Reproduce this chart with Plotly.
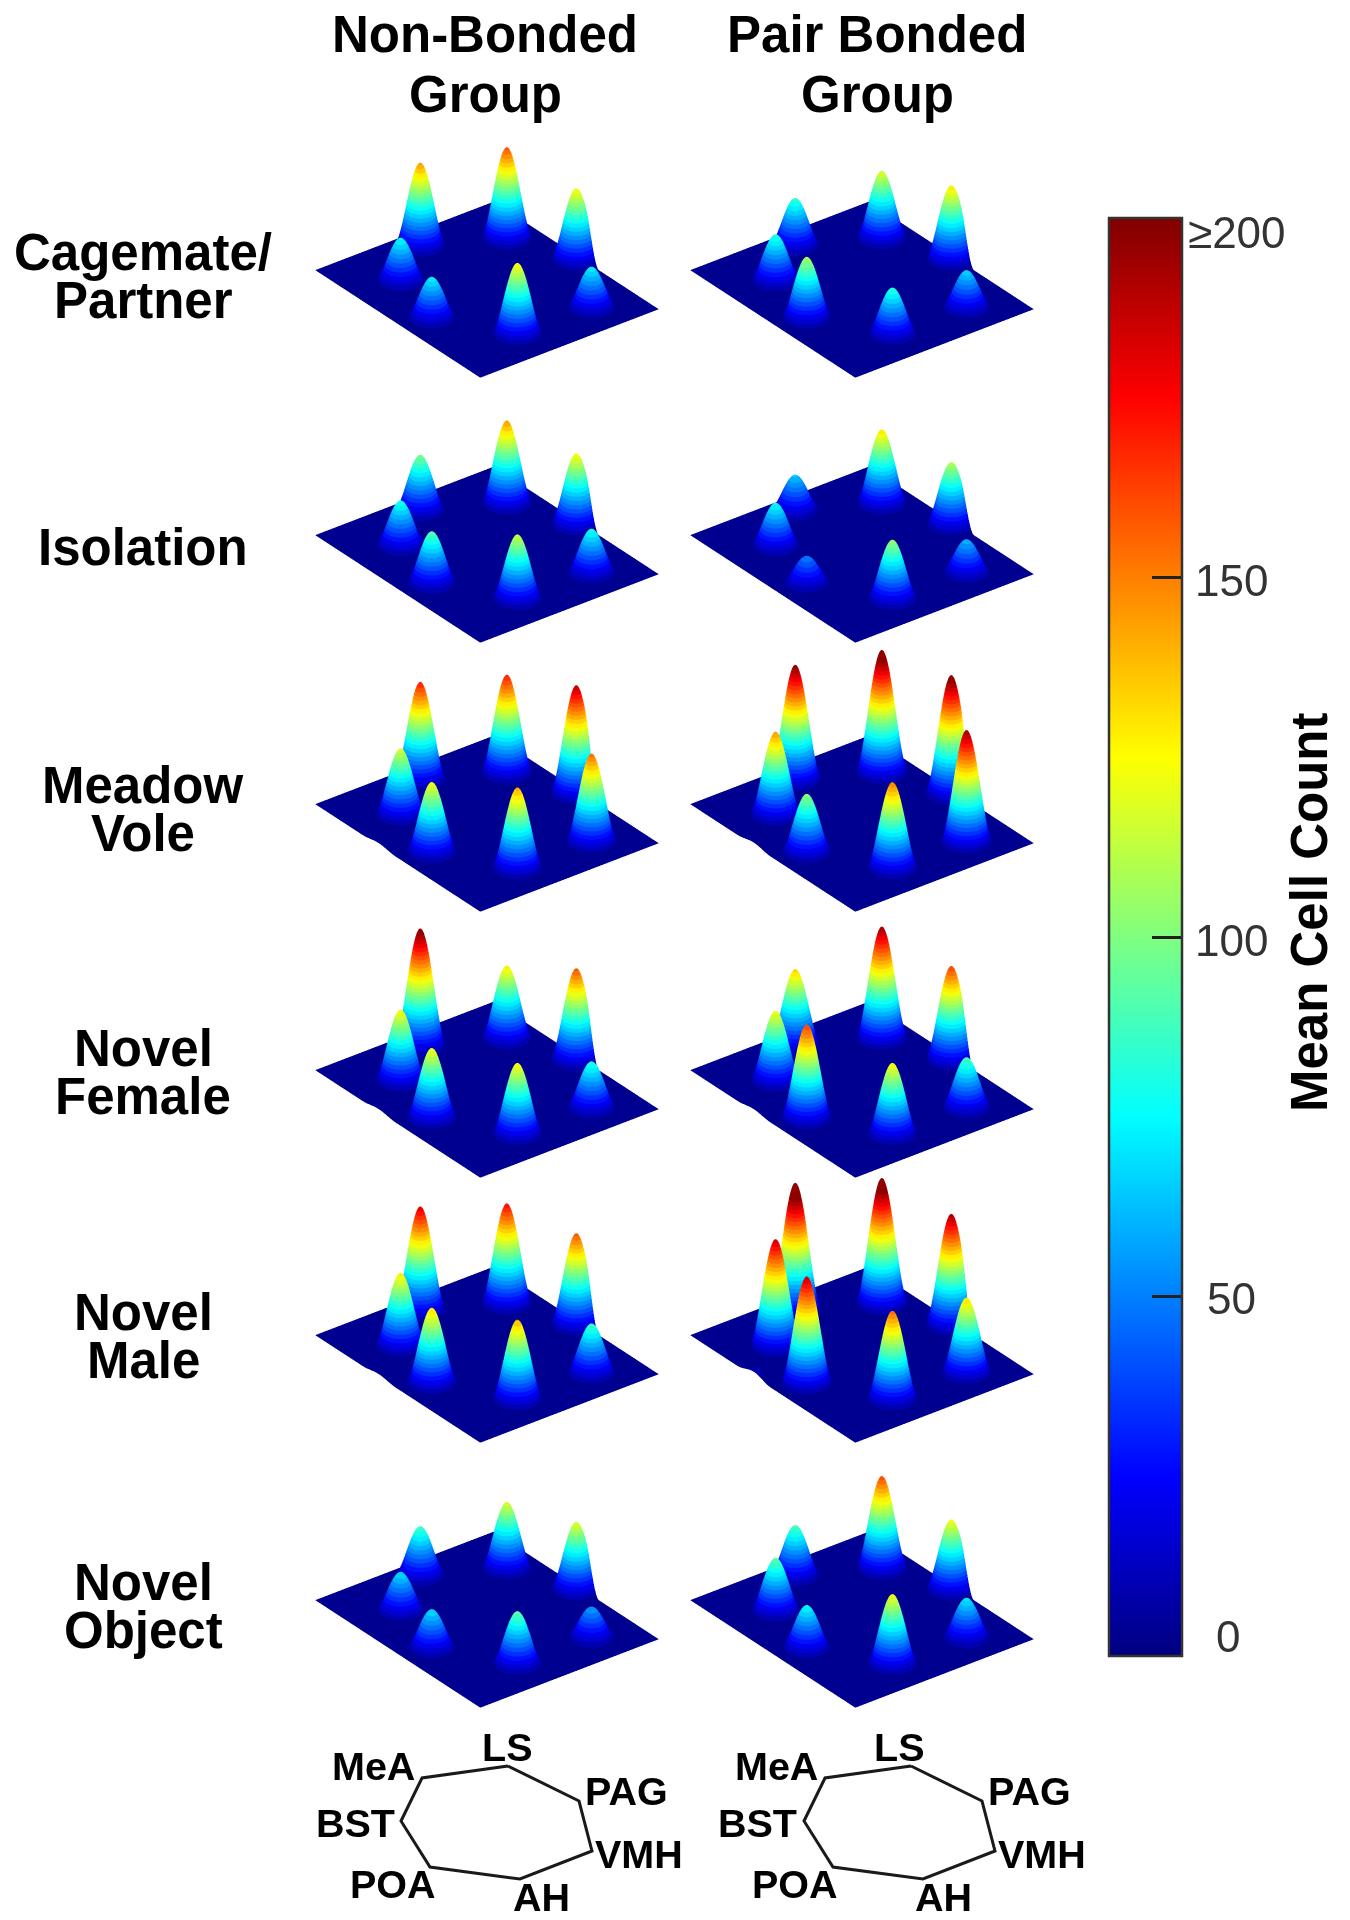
"""
plot.py

Mean cell count per brain region, drawn as one 3D surface for each group and stimulus,
with a shared jet colour bar and a key of the region layout underneath.
"""

import numpy as np
import plotly.graph_objects as go

regions = ['MeA', 'LS', 'PAG', 'BST', 'POA', 'AH', 'VMH']
groups = ['Non-Bonded', 'Pair Bonded']
stimuli = ['Cagemate/Partner', 'Isolation', 'Meadow Vole', 'Novel Female', 'Novel Male', 'Novel Object']

# Peak heights, same order as regions
non_bonded = [
    [144, 158, 124, 76, 73, 124, 73],
    [98, 144, 124, 80, 91, 113, 78],
    [169, 169, 187, 116, 122, 140, 153],
    [202, 127, 158, 124, 122, 124, 82],
    [180, 173, 158, 127, 131, 138, 87],
    [87, 116, 118, 69, 69, 93, 56],
]
pair_bonded = [
    [84, 118, 129, 82, 107, 82, 67],
    [64, 129, 109, 76, 49, 104, 60],
    [198, 211, 204, 144, 102, 149, 193],
    [133, 193, 162, 122, 162, 124, 89],
    [220, 216, 191, 184, 184, 153, 131],
    [89, 160, 122, 93, 76, 122, 71],
]
# Small blip on the front left edge of some panels
non_bonded_blip = [0, 0, 4, 4, 4, 0]
pair_bonded_blip = [0, 0, 5, 4, 8, 0]

# Where each region sits on the floor of a panel (0-1 on both floor axes)
region_x = [0.107, 0.259, 0.538, 0.268, 0.556, 0.842, 0.855]
region_y = [0.490, 0.834, 0.965, 0.231, 0.139, 0.354, 0.757]
blip_x = 0.386
blip_y = 0.0

colorbar_ticks = [0, 50, 100, 150, 200]
colorbar_labels = ['0', '50', '100', '150', '≥200']

# MATLAB jet
jet = [
    [0.0, 'rgb(0,0,128)'],
    [0.125, 'rgb(0,0,255)'],
    [0.375, 'rgb(0,255,255)'],
    [0.625, 'rgb(255,255,0)'],
    [0.875, 'rgb(255,0,0)'],
    [1.0, 'rgb(128,0,0)'],
]

# Key outline, closed, in page pixels
key_x = [508, 579, 592, 520, 430, 401, 422, 508]
key_y = [1766, 1801, 1851, 1879, 1867, 1821, 1778, 1766]
key_labels = ['LS', 'MeA', 'PAG', 'BST', 'VMH', 'POA', 'AH']
key_label_x = [507, 373, 626, 355, 639, 393, 541]
key_label_y = [1747, 1766, 1791, 1823, 1854, 1884, 1897]
key_col_shift = [392, 403, 403, 402, 403, 402, 402]

W, H = 1350, 1920
PAGE_MARGIN = 8  # the page body pushes the figure in by this much
panel_left = [316, 691]
panel_floor_left = [269.5, 535.4, 803.7, 1069.5, 1335.4, 1600]

FLOOR_X_PX = 270
FLOOR_Y_PX = 224
Z_PX_PER_COUNT = 0.68
Z_MIN, Z_MAX = -89, 240
BUMP_RADIUS_PX = 28
ZOOM = 2.01  # orthographic scale, found by comparing with the reference
N_BANDS = 32  # the surfaces show visible colour steps, the colour bar does not


def jet_at(t):
    """Jet colour at t in 0-1, as an rgb string."""
    stops = [s for s, _ in jet]
    channels = [[int(v) for v in c[4:-1].split(',')] for _, c in jet]
    rgb = [np.interp(t, stops, [c[i] for c in channels]) for i in range(3)]
    return f'rgb({rgb[0]:.0f},{rgb[1]:.0f},{rgb[2]:.0f})'


def stepped_jet(n):
    """Jet cut into n flat colour bands."""
    scale = []
    for i in range(n):
        color = jet_at((i + 0.5) / n)
        scale.append([i / n, color])
        scale.append([(i + 1) / n, color])
    return scale


def bump(xx, yy, cx, cy):
    """Unit height bump that ends at a clear foot, like the peaks in the picture."""
    dist = np.hypot((xx - cx) * FLOOR_X_PX, (yy - cy) * FLOOR_Y_PX)
    return np.where(dist < BUMP_RADIUS_PX, np.cos(np.pi * dist / (2 * BUMP_RADIUS_PX)) ** 2, 0.0)


def build_surface(peaks, blip):
    """Sum one bump per region on a fine floor grid."""
    x = np.linspace(0, 1, 241)
    y = np.linspace(0, 1, 201)
    xx, yy = np.meshgrid(x, y)
    z = np.zeros_like(xx)
    for px, py, h in zip(region_x, region_y, peaks):
        z += h * bump(xx, yy, px, py)
    if blip:
        z += blip * bump(xx, yy, blip_x, blip_y)
    return x, y, z


fig = go.Figure()
phi = np.radians(-37.5)
theta = np.radians(30)
eye = dict(
    x=float(np.cos(phi) * np.cos(theta)),
    y=float(np.sin(phi) * np.cos(theta)),
    z=float(np.sin(theta)),
)

surface_scale = stepped_jet(N_BANDS)
scene_layouts = {}
idx = 0
for r, floor_top in enumerate(panel_floor_left):
    for c, left in enumerate(panel_left):
        idx += 1
        peaks = non_bonded[r] if c == 0 else pair_bonded[r]
        blip = non_bonded_blip[r] if c == 0 else pair_bonded_blip[r]
        x, y, z = build_surface(peaks, blip)
        name = 'scene' if idx == 1 else f'scene{idx}'
        fig.add_trace(go.Surface(
            x=x, y=y, z=z, scene=name, colorscale=surface_scale, cmin=0, cmax=200,
            showscale=False, hoverinfo='skip',
            lighting=dict(ambient=1.0, diffuse=0.0, specular=0.0, fresnel=0.0),
        ))
        hidden = dict(visible=False, showgrid=False, zeroline=False, showbackground=False)
        scene_layouts[name] = dict(
            domain=dict(
                x=[(left - 16 - PAGE_MARGIN) / W, (left + 358 - PAGE_MARGIN) / W],
                y=[1 - (floor_top + 110 - PAGE_MARGIN) / H, 1 - (floor_top - 160 - PAGE_MARGIN) / H],
            ),
            xaxis=dict(range=[0, 1], **hidden),
            yaxis=dict(range=[0, 1], **hidden),
            zaxis=dict(range=[Z_MIN, Z_MAX], **hidden),
            aspectmode='manual',
            aspectratio=dict(
                x=ZOOM,
                y=ZOOM * FLOOR_Y_PX / FLOOR_X_PX,
                z=ZOOM * (Z_MAX - Z_MIN) * Z_PX_PER_COUNT / FLOOR_X_PX,
            ),
            camera=dict(eye=eye, up=dict(x=0, y=0, z=1), projection=dict(type='orthographic')),
            bgcolor='rgba(0,0,0,0)',
        )

# Key outlines on a hidden page-pixel axis
for shift in (0, 403):
    fig.add_trace(go.Scatter(
        x=[v + shift for v in key_x], y=key_y, mode='lines',
        line=dict(color='#1a1a1a', width=3), hoverinfo='skip', showlegend=False,
    ))

# Empty trace that only carries the smooth colour bar
fig.add_trace(go.Scatter(
    x=[None], y=[None], mode='markers', hoverinfo='skip', showlegend=False,
    marker=dict(color=[0], coloraxis='coloraxis'),
))

annotations = []


def add_text(x, y, text, size, color='black', bold=True, angle=0):
    annotations.append(dict(
        x=x, y=y, xref='x', yref='y', text=f'<b>{text}</b>' if bold else text,
        showarrow=False, xanchor='center', yanchor='middle', textangle=angle,
        font=dict(family='Liberation Sans, Arial, sans-serif', size=size, color=color),
    ))


# Column titles
add_text(485, 34, 'Non-Bonded', 51)
add_text(485, 94, 'Group', 51)
add_text(877, 34, 'Pair Bonded', 51)
add_text(877, 94, 'Group', 51)

# Row titles, one entry per line
row_lines = [
    ('Cagemate/', 252), ('Partner', 300), ('Isolation', 547), ('Meadow', 785), ('Vole', 833),
    ('Novel', 1048), ('Female', 1096), ('Novel', 1312), ('Male', 1360), ('Novel', 1582), ('Object', 1630),
]
for text, y in row_lines:
    add_text(143, y, text, 51)

# Key labels
for name, lx, ly, shift in zip(key_labels, key_label_x, key_label_y, key_col_shift):
    add_text(lx, ly, name, 39.5)
    add_text(lx + shift, ly, name, 39.5)

# Colour bar labels sit centred, not at their ticks at the two ends
cbar_label_y = [1636, 1298, 940, 580, 232]
cbar_label_x = [1228, 1231, 1231, 1231, 1237]
for lab, lx, ly in zip(colorbar_labels, cbar_label_x, cbar_label_y):
    add_text(lx, ly, lab, 44, color='#333333', bold=False)
add_text(1309, 912, 'Mean Cell Count', 51, angle=-90)

fig.update_layout(
    width=W, height=H, margin=dict(l=0, r=0, t=0, b=0),
    paper_bgcolor='white', plot_bgcolor='white', showlegend=False,
    xaxis=dict(range=[PAGE_MARGIN, W + PAGE_MARGIN], visible=False, fixedrange=True),
    yaxis=dict(range=[H + PAGE_MARGIN, PAGE_MARGIN], visible=False, fixedrange=True),
    coloraxis=dict(
        cmin=0, cmax=200, colorscale=jet,
        colorbar=dict(
            x=(1109 - PAGE_MARGIN) / W, xanchor='left', xpad=0,
            y=1 - (937 - PAGE_MARGIN) / H, yanchor='middle', ypad=0,
            lenmode='pixels', len=1438, thicknessmode='pixels', thickness=73,
            outlinecolor='#333333', outlinewidth=2.5, tickmode='array', tickvals=colorbar_ticks,
            ticks='inside', ticklen=31, tickcolor='#222222', tickwidth=2.5, showticklabels=False,
        ),
    ),
    annotations=annotations,
    **scene_layouts,
)

fig.write_html("out.html")
